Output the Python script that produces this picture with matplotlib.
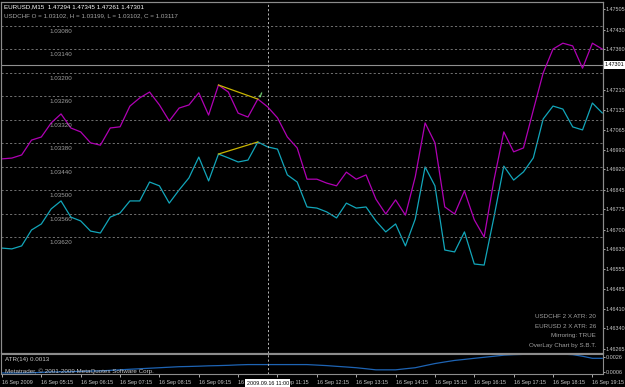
import matplotlib
matplotlib.use('Agg')
import matplotlib.pyplot as plt
import matplotlib.transforms as mtransforms

# dados (barras M15 de 04:15 ate 19:30)
eurusd = [1.46633, 1.46630, 1.46641, 1.46699, 1.46721, 1.46776, 1.46805, 1.46746,
          1.46732, 1.46695, 1.46688, 1.46746, 1.46761, 1.46805, 1.46805, 1.46874,
          1.46860, 1.46797, 1.46845, 1.46889, 1.46965, 1.46878, 1.46976, 1.46962,
          1.46947, 1.46954, 1.47020, 1.47002, 1.46994, 1.46900, 1.46874, 1.46783,
          1.46779, 1.46765, 1.46743, 1.46797, 1.46779, 1.46783, 1.46732, 1.46692,
          1.46721, 1.46641, 1.46739, 1.46929, 1.46860, 1.46626, 1.46619, 1.46692,
          1.46575, 1.46571, 1.46746, 1.46932, 1.46881, 1.46911, 1.46962, 1.47104,
          1.47151, 1.47140, 1.47075, 1.47064, 1.47162, 1.47126]

usdchf = [1.03420, 1.03418, 1.03410, 1.03372, 1.03364, 1.03328, 1.03305, 1.03341,
          1.03351, 1.03379, 1.03385, 1.03341, 1.03338, 1.03285, 1.03264, 1.03249,
          1.03282, 1.03323, 1.03290, 1.03282, 1.03251, 1.03308, 1.03231, 1.03249,
          1.03303, 1.03313, 1.03267, 1.03287, 1.03315, 1.03364, 1.03392, 1.03472,
          1.03472, 1.03482, 1.03489, 1.03454, 1.03472, 1.03461, 1.03523, 1.03561,
          1.03525, 1.03564, 1.03466, 1.03328, 1.03379, 1.03543, 1.03561, 1.03502,
          1.03576, 1.03620, 1.03474, 1.03351, 1.03402, 1.03392, 1.03295, 1.03200,
          1.03139, 1.03124, 1.03131, 1.03188, 1.03124, 1.03139]

atr = [0.00045, 0.00045, 0.00045, 0.00048, 0.00053, 0.00060, 0.00060, 0.00063,
       0.00067, 0.00071, 0.00074, 0.00081, 0.00088, 0.00096, 0.00103, 0.00110,
       0.00117, 0.00124, 0.00131, 0.00134, 0.00138, 0.00143, 0.00146, 0.00150,
       0.00156, 0.00160, 0.00160, 0.00160, 0.00160, 0.00160, 0.00160, 0.00160,
       0.00153, 0.00146, 0.00136, 0.00127, 0.00117, 0.00103, 0.00088, 0.00088,
       0.00088, 0.00103, 0.00117, 0.00146, 0.00174, 0.00196, 0.00217, 0.00231,
       0.00246, 0.00260, 0.00274, 0.00289, 0.00296, 0.00300, 0.00303, 0.00303,
       0.00303, 0.00303, 0.00296, 0.00274, 0.00246, 0.00246]

eur_ticks = [1.47505, 1.47430, 1.47360, 1.47210, 1.47135, 1.47065, 1.46990, 1.46920,
             1.46845, 1.46775, 1.46700, 1.46630, 1.46555, 1.46485, 1.46410, 1.46340,
             1.46265]
chf_ticks = [1.03080, 1.03140, 1.03200, 1.03260, 1.03320, 1.03380, 1.03440, 1.03500,
             1.03560, 1.03620]
atr_ticks = [0.0026, 0.0006]

time_labels = ['16 Sep 2009', '16 Sep 05:15', '16 Sep 06:15', '16 Sep 07:15',
               '16 Sep 08:15', '16 Sep 09:15', '16 Sep 10:15', '16 Sep 11:15',
               '16 Sep 12:15', '16 Sep 13:15', '16 Sep 14:15', '16 Sep 15:15',
               '16 Sep 16:15', '16 Sep 17:15', '16 Sep 18:15', '16 Sep 19:15']

cursor_bar = 27
cursor_label = '2009.09.16 11:00'
last_price = 1.47301
trend_from, trend_to = 22, 26

header1 = 'EURUSD,M15  1.47294 1.47345 1.47261 1.47301'
header2 = 'USDCHF O = 1.03102, H = 1.03199, L = 1.03102, C = 1.03117'
info = ['USDCHF 2 X ATR: 20', 'EURUSD 2 X ATR: 26', 'Mirroring: TRUE',
        'OverLay Chart by S.B.T.']

# estilo
plt.rcParams['font.family'] = ['Liberation Sans', 'DejaVu Sans']
fs = 4.5
fs_axis = 3.9
fs_time = 3.9
txt = '#C8C8C8'
grid = '#707070'
frame = '#8C8C8C'
dash = (0, (2.2, 2.2))

W, H = 625, 387
fig = plt.figure(figsize=(W / 100, H / 100), dpi=100, facecolor='black')
ax = fig.add_axes([1 / W, 34 / H, 602 / W, 351 / H], facecolor='black')
ax2 = ax.twinx()
ax3 = fig.add_axes([1 / W, 13 / H, 602 / W, 20 / H], facecolor='black')

bars = list(range(len(eurusd)))
xlim = (-0.1, 61.08)

# painel principal - EURUSD
ax.plot(bars, eurusd, color='#12A6BA', lw=0.9)
ax.plot([trend_from, trend_to], [eurusd[trend_from], eurusd[trend_to]], color='#C8B400', lw=0.9)
ax.set_xlim(xlim)
ax.set_ylim(1.462504, 1.475305)
ax.set_xticks([])
ax.yaxis.tick_right()
ax.set_yticks(eur_ticks)
ax.set_yticklabels([f'{v:.5f}' for v in eur_ticks])
ax.tick_params(axis='y', colors=txt, labelsize=fs_axis, length=1.5, pad=0.5, width=0.6)
ax.axhline(last_price, color='#909090', lw=0.8)
ax.annotate(f'{last_price:.5f}', xy=(1.0, last_price),
            xycoords=mtransforms.blended_transform_factory(ax.transAxes, ax.transData),
            xytext=(1.0, 0), textcoords='offset points', ha='left', va='center',
            fontsize=fs_axis, color='black', annotation_clip=False,
            bbox=dict(boxstyle='square,pad=0.2', fc='white', ec='none'))
ax.axvline(cursor_bar, color='#B4B4B4', lw=0.7, ls=dash)

# USDCHF espelhado (eixo invertido)
ax2.set_ylim(1.039168, 1.030186)
ax2.set_xlim(xlim)
ax2.set_yticks([])
for v in chf_ticks:
    ax2.axhline(v, color=grid, lw=0.7, ls=dash, zorder=0)
    ax2.annotate(f'{v:.5f}', xy=(0.08, v),
                 xycoords=mtransforms.blended_transform_factory(ax2.transAxes, ax2.transData),
                 xytext=(0, -2.2), textcoords='offset points', ha='left', va='top',
                 fontsize=fs, color='#A0A0A0')
ax2.plot(bars, usdchf, color='#B000B4', lw=0.9)
ax2.plot([trend_from, trend_to], [usdchf[trend_from], usdchf[trend_to]], color='#C8B400', lw=0.9)
ax2.text(trend_to + 0.3, usdchf[trend_to] - 0.00009, '\u2714', color='#7CE07C',
         fontsize=5.5, rotation=20, ha='center', va='center', family='DejaVu Sans')

for a in (ax, ax2, ax3):
    for s in a.spines.values():
        s.set_color(frame)
        s.set_linewidth(0.8)

# painel ATR
ax3.plot(bars, atr, color='#1E64B4', lw=0.9)
ax3.set_xlim(xlim)
ax3.set_ylim(0.00031, 0.00305)
ax3.yaxis.tick_right()
ax3.set_yticks(atr_ticks)
ax3.set_yticklabels([f'{v:.4f}' for v in atr_ticks])
ax3.tick_params(axis='y', colors=txt, labelsize=fs_axis, length=1.5, pad=0.5, width=0.6)
ax3.set_xticks(range(0, len(bars), 4))
ax3.set_xticklabels(time_labels, ha='left')
ax3.tick_params(axis='x', colors=txt, labelsize=fs_time, length=2.5, pad=1.5, width=0.6)
ax3.axvline(cursor_bar, color='#B4B4B4', lw=0.7, ls=dash)
ax3.annotate(cursor_label, xy=(cursor_bar, 0), xycoords=('data', 'axes fraction'),
             xytext=(0, -6.5), textcoords='offset points', ha='center', va='center',
             fontsize=fs_time, color='black', annotation_clip=False, zorder=10,
             bbox=dict(boxstyle='square,pad=0.25', fc='white', ec='none'))
ax3.text(4 / W, 0.75, 'ATR(14) 0.0013', transform=ax3.transAxes, fontsize=fs,
         color=txt, va='center')
ax3.text(4 / W, 0.15, 'Metatrader, \u00a9 2001-2009 MetaQuotes Software Corp.',
         transform=ax3.transAxes, fontsize=fs, color=txt, va='center')

# textos do cabecalho e info
fig.text(4 / W, 1 - 7 / H, header1, fontsize=fs, color='white', va='center')
fig.text(4 / W, 1 - 16 / H, header2, fontsize=fs, color='#A8A8A8', va='center')
for i, t in enumerate(info):
    fig.text(596 / W, 1 - (317 + 9.5 * i) / H, t, fontsize=fs, color='#A0A0A0',
             ha='right', va='center')

fig.savefig('out.png', dpi=100, facecolor='black')
